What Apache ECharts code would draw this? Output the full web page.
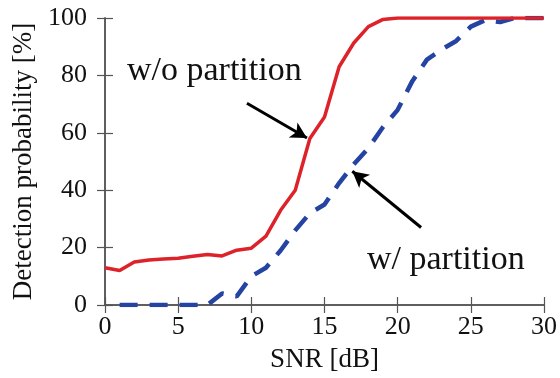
<!DOCTYPE html>
<html>
<head>
<meta charset="utf-8">
<script src="https://cdn.jsdelivr.net/npm/echarts@6/dist/echarts.min.js"></script>
<style>
  html, body { margin: 0; padding: 0; background: #fff; }
  #chart { width: 560px; height: 378px; }
</style>
</head>
<body>
<div id="chart"></div>
<script>
// SNR [dB]
var snr = [0, 1, 2, 3, 4, 5, 6, 7, 8, 9, 10, 11, 12, 13, 14, 15, 16, 17, 18, 19, 20,
           21, 22, 23, 24, 25, 26, 27, 28, 29, 30];
// w/o partition
var woPartition = [13, 12, 15, 15.7, 16, 16.3, 17, 17.6, 17.1, 19.1, 19.8, 24, 33, 40, 58, 65.5, 83, 91.3, 97, 99.5, 100,
                   100, 100, 100, 100, 100, 100, 100, 100, 100, 100];
// w/ partition (starts at 1 dB)
var wPartition = [null, 0, 0, 0, 0, 0, 0, 0, 4, 3, 10, 13, 19, 26, 32, 35, 42.5, 49, 54.7, 62, 68,
                  78, 85.5, 89, 92, 97, 99.3, 98.6, 100, 100, 100];
var xTicks = [0, 5, 10, 15, 20, 25, 30];
var yTicks = [0, 20, 40, 60, 80, 100];

var serif = '"Liberation Serif", "DejaVu Serif", serif';
var axisCol = '#555';

function pairs(xs, ys) {
    var res = [];
    for (var i = 0; i < xs.length; i++) {
        if (ys[i] !== null) res.push([xs[i], ys[i]]);
    }
    return res;
}

var myChart = echarts.init(document.getElementById('chart'));

var baseX = {
    type: 'value', min: 0, max: 30, interval: 5,
    axisLine: { show: true, lineStyle: { color: axisCol, width: 1.5 } },
    axisTick: { show: true, inside: true, length: 8, lineStyle: { color: axisCol, width: 1.2 } },
    splitLine: { show: false }
};
var baseY = {
    type: 'value', min: 0, max: 100, interval: 20,
    axisLine: { show: true, lineStyle: { color: axisCol, width: 1.5 } },
    axisTick: { show: true, inside: true, length: 8, lineStyle: { color: axisCol, width: 1.2 } },
    splitLine: { show: false }
};

var option = {
    animation: false,
    backgroundColor: '#fff',
    grid: { left: 105, right: 15, top: 18, bottom: 70 },
    xAxis: [
        Object.assign({}, baseX, {
            position: 'bottom',
            name: 'SNR [dB]', nameLocation: 'middle', nameGap: 41,
            nameTextStyle: { fontFamily: serif, fontSize: 27, color: '#111' },
            axisLabel: { fontFamily: serif, fontSize: 26, color: '#111', margin: 9,
                formatter: function (v) { return xTicks.indexOf(v) >= 0 ? v : ''; } }
        }),
        Object.assign({}, baseX, { position: 'top', axisLabel: { show: false } })
    ],
    yAxis: [
        Object.assign({}, baseY, {
            position: 'left',
            name: 'Detection probability [%]', nameLocation: 'middle', nameGap: 65,
            nameTextStyle: { fontFamily: serif, fontSize: 27, color: '#111' },
            axisLabel: { fontFamily: serif, fontSize: 26, color: '#111', margin: 18,
                formatter: function (v) { return yTicks.indexOf(v) >= 0 ? v : ''; } }
        }),
        Object.assign({}, baseY, { position: 'right', axisLabel: { show: false } })
    ],
    graphic: [
        { type: 'text', x: 127, y: 71,
          style: { text: 'w/o partition', font: '34px ' + serif, fill: '#111', verticalAlign: 'middle' } },
        { type: 'text', x: 367, y: 260,
          style: { text: 'w/ partition', font: '34px ' + serif, fill: '#111', verticalAlign: 'middle' } }
    ],
    series: [
        {
            name: 'w/ partition', type: 'line',
            data: pairs(snr, wPartition),
            showSymbol: false, symbol: 'none',
            lineStyle: { color: '#2443a3', width: 4.5, type: [18, 12] },
            z: 2,
            markLine: {
                silent: true, symbol: ['none', 'arrow'], symbolSize: [13, 16],
                label: { show: false },
                lineStyle: { color: '#000', width: 3, type: 'solid' },
                data: [
                    [{ coord: [21.6, 27] }, { coord: [16.9, 46.6] }]
                ]
            }
        },
        {
            name: 'w/o partition', type: 'line',
            data: pairs(snr, woPartition),
            showSymbol: false, symbol: 'none',
            lineStyle: { color: '#dd2229', width: 3.5 },
            z: 3,
            markLine: {
                silent: true, symbol: ['none', 'arrow'], symbolSize: [13, 16],
                label: { show: false },
                lineStyle: { color: '#000', width: 3, type: 'solid' },
                data: [
                    [{ coord: [9.7, 70.3] }, { coord: [13.8, 58.2] }]
                ]
            }
        }
    ]
};

myChart.setOption(option);
</script>
</body>
</html>
